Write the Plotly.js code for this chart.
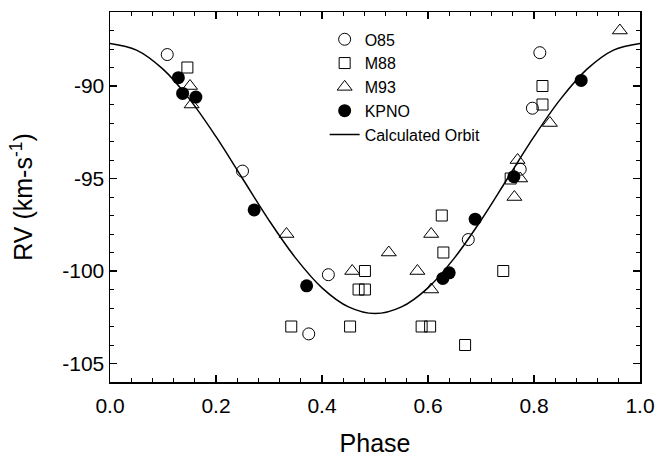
<!DOCTYPE html>
<html>
<head>
<meta charset="utf-8">
<script src="https://cdn.plot.ly/plotly-3.0.1.min.js"></script>
<style>html,body{margin:0;padding:0;background:#fff;}#chart{width:657px;height:459px;}</style>
</head>
<body>
<div id="chart"></div>
<script>
// O85 (open circles)
const phaseO85 = [0.108, 0.250, 0.375, 0.412, 0.676, 0.774, 0.797, 0.811];
const rvO85    = [-88.3, -94.6, -103.4, -100.2, -98.3, -94.5, -91.2, -88.2];
// M88 (open squares)
const phaseM88 = [0.146, 0.342, 0.453, 0.469, 0.481, 0.481, 0.588, 0.604, 0.626, 0.629, 0.670, 0.742, 0.756, 0.816, 0.816];
const rvM88    = [-89.0, -103.0, -103.0, -101.0, -101.0, -100.0, -103.0, -103.0, -97.0, -99.0, -104.0, -100.0, -95.0, -91.0, -90.0];
// M93 (open triangles)
const phaseM93 = [0.151, 0.154, 0.333, 0.457, 0.526, 0.580, 0.606, 0.606, 0.763, 0.769, 0.774, 0.830, 0.962];
const rvM93    = [-90.0, -91.0, -98.0, -100.0, -99.0, -100.0, -98.0, -101.0, -96.0, -94.0, -95.0, -92.0, -87.0];
// KPNO (filled circles)
const phaseKPNO = [0.129, 0.137, 0.162, 0.272, 0.371, 0.628, 0.640, 0.689, 0.762, 0.889];
const rvKPNO    = [-89.55, -90.4, -90.6, -96.7, -100.8, -100.4, -100.1, -97.2, -94.9, -89.7];
// Calculated orbit
const phaseOrbit = [0.00, 0.05, 0.10, 0.15, 0.20, 0.25, 0.30, 0.35, 0.40, 0.45, 0.50, 0.55, 0.60, 0.65, 0.70, 0.75, 0.80, 0.85, 0.90, 0.95, 1.00];
const rvOrbit    = [-87.70, -88.06, -89.09, -90.71, -92.74, -95.00, -97.26, -99.29, -100.91, -101.94, -102.30, -101.94, -100.91, -99.29, -97.26, -95.00, -92.74, -90.71, -89.09, -88.06, -87.70];

const xTicks = [0.0, 0.2, 0.4, 0.6, 0.8, 1.0];
const xTickText = ['0.0', '0.2', '0.4', '0.6', '0.8', '1.0'];
const yTicks = [-105, -100, -95, -90];
const yTickText = ['-105', '-100', '-95', '-90'];

const FONT = 'Liberation Sans, Arial, Helvetica, sans-serif';

const traces = [
  {x: phaseO85, y: rvO85, name: 'O85', type: 'scatter', mode: 'markers',
   marker: {symbol: 'circle-open', size: 12, color: '#000', line: {width: 1, color: '#000'}}},
  {x: phaseM88, y: rvM88, name: 'M88', type: 'scatter', mode: 'markers',
   marker: {symbol: 'square-open', size: 11, color: '#000', line: {width: 1, color: '#000'}}},
  {x: phaseM93, y: rvM93, name: 'M93', type: 'scatter', mode: 'markers',
   marker: {symbol: 'triangle-up-open', size: 13, color: '#000', line: {width: 1, color: '#000'}}},
  {x: phaseKPNO, y: rvKPNO, name: 'KPNO', type: 'scatter', mode: 'markers',
   marker: {symbol: 'circle', size: 13, color: '#000'}},
  {x: phaseOrbit, y: rvOrbit, name: 'Calculated Orbit', type: 'scatter', mode: 'lines',
   line: {color: '#000', width: 1.5, shape: 'spline'}}
];

const layout = {
  width: 657, height: 459,
  margin: {l: 110, r: 17, t: 12, b: 77},
  paper_bgcolor: '#fff', plot_bgcolor: '#fff',
  font: {family: FONT, size: 21, color: '#000'},
  showlegend: true,
  legend: {x: 0.405, y: 0.972, xanchor: 'left', yanchor: 'top',
           font: {family: FONT, size: 16, color: '#000'},
           bgcolor: 'rgba(0,0,0,0)', borderwidth: 0, tracegroupgap: 0},
  xaxis: {
    range: [0, 1], tickvals: xTicks, ticktext: xTickText,
    showline: true, linecolor: '#000', linewidth: 1.5, mirror: 'ticks',
    ticks: 'inside', ticklen: 7, tickwidth: 1.2, tickcolor: '#000',
    minor: {dtick: 0.04, ticks: 'inside', ticklen: 4, tickwidth: 1, tickcolor: '#000'},
    showgrid: false, zeroline: false, ticklabelstandoff: 4,
    tickfont: {family: FONT, size: 21, color: '#000'},
    title: {text: 'Phase', font: {family: FONT, size: 25, color: '#000'}, standoff: 19}
  },
  yaxis: {
    range: [-106, -86], tickvals: yTicks, ticktext: yTickText,
    showline: true, linecolor: '#000', linewidth: 1.5, mirror: 'ticks',
    ticks: 'inside', ticklen: 7, tickwidth: 1.2, tickcolor: '#000',
    minor: {dtick: 1, ticks: 'inside', ticklen: 4, tickwidth: 1, tickcolor: '#000'},
    showgrid: false, zeroline: false,
    tickfont: {family: FONT, size: 21, color: '#000'},
    title: {text: 'RV (km-s<sup>-1</sup>)', font: {family: FONT, size: 25, color: '#000'}, standoff: 22}
  }
};

Plotly.newPlot('chart', traces, layout, {displayModeBar: false, staticPlot: true});
</script>
</body>
</html>
